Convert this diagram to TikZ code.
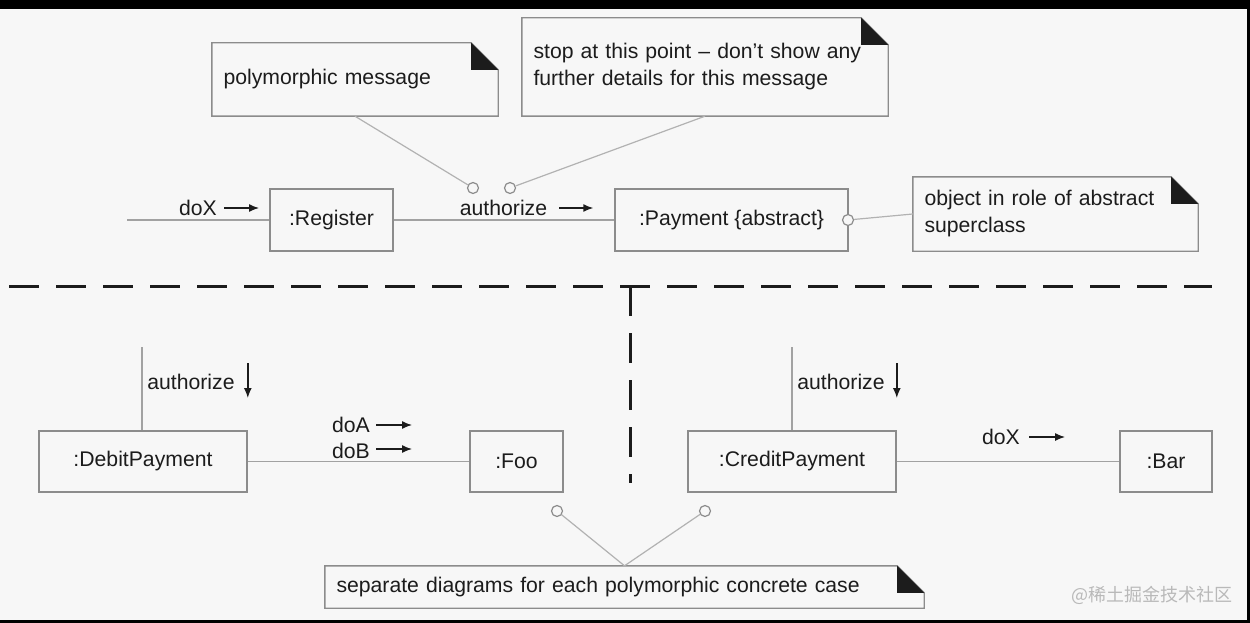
\documentclass[tikz,border=0pt]{standalone}
\usepackage{fontspec}
\setmainfont{Liberation Sans}
\newfontfamily\cjk{Noto Sans CJK SC}
\usetikzlibrary{arrows.meta}

\definecolor{paper}{HTML}{F7F7F7}
\definecolor{ink}{HTML}{1C1C1C}
\definecolor{frame}{HTML}{8C8C8C}
\definecolor{wire}{HTML}{A2A2A2}
\definecolor{tieline}{HTML}{B2B2B2}

\begin{document}
\begin{tikzpicture}[x=1pt,y=-1pt,>={Latex[length=10pt,width=8pt]},font=\fontsize{21.2}{27}\selectfont,text=ink]
		\tikzstyle{object}=[rectangle, draw=frame, line width=1.4pt, minimum height=62pt, inner sep=0pt]
		\tikzstyle{note}=[rectangle, inner xsep=11.5pt, inner ysep=0pt, align=left]
		\tikzstyle{link}=[draw=wire, line width=1.4pt]
		\tikzstyle{msg}=[->, draw=ink, line width=1.5pt]
		\tikzstyle{msgtext}=[inner sep=0pt]
		\tikzstyle{ring}=[circle, draw=frame, line width=1.2pt, fill=paper, minimum size=11pt, inner sep=0pt]
		\tikzstyle{tie}=[draw=tieline, line width=1.2pt]
		\tikzstyle{cut}=[draw=ink, line width=3pt, dash pattern=on 30pt off 17pt]

		\useasboundingbox (0,0) rectangle (1250,623);
		\fill [paper] (0,0) rectangle (1250,623);
		\fill [black] (0,0) rectangle (1250,9);
		\fill [black] (0,620) rectangle (1250,623);
		\fill [black] (1247,0) rectangle (1250,623);

		% notes
		\node [note, minimum width=286pt, minimum height=73pt, text width=263pt] (n1) at (355,79.5) {polymorphic message};
		\node [note, minimum width=366pt, minimum height=98pt, text width=343pt] (n2) at (705,67) {stop at this point -- don't show any\\further details for this message};
		\node [note, minimum width=285pt, minimum height=74pt, text width=262pt] (n3) at (1055.5,214) {object in role of abstract\\superclass};
		\node [note, minimum width=599pt, minimum height=42pt, text width=576pt] (n4) at (624.5,587) {separate diagrams for each polymorphic concrete case};

		\foreach \n in {n1,n2,n3,n4} {
			\draw [draw=frame, line width=1.4pt] (\n.north west) -- ([shift={(-27,0)}]\n.north east)
				-- ([shift={(0,27)}]\n.north east) -- (\n.south east) -- (\n.south west) -- cycle;
			\fill [ink] ([shift={(-27,0)}]\n.north east) -- ([shift={(-27,27)}]\n.north east)
				-- ([shift={(0,27)}]\n.north east) -- cycle;
		}

		% top diagram
		\node [object, minimum width=123pt] (reg) at (331.5,220) {:Register};

		\node [object, minimum width=233pt] (pay) at (731.5,220) {:Payment \{abstract\}}
		edge [link] (reg);

		\coordinate (in1) at (127,220);
		\draw [link] (in1) -- (reg);

		\node [msgtext] (m1) at (198,208) {doX};
		\draw [msg] ([shift={(7,0)}]m1.east) -- ++(35,0);

		\node [msgtext] (m2) at (503.5,208) {authorize};
		\draw [msg] ([shift={(12,0)}]m2.east) -- ++(34,0);

		% separators
		\coordinate (sepL) at (9,286);
		\coordinate (sepR) at (1212,286);
		\coordinate (sepT) at (630,286);
		\coordinate (sepB) at (630,483);
		\draw [cut] (sepL) -- (sepR);
		\draw [cut] (sepT) -- (sepB);

		% bottom left
		\node [object, minimum width=208pt, minimum height=61pt] (debit) at (143,461.5) {:DebitPayment};

		\node [object, minimum width=93pt, minimum height=61pt] (foo) at (516.5,461.5) {:Foo}
		edge [link] (debit);

		\coordinate (in2) at (142,347);
		\draw [link] (in2) -- (in2 |- debit.north);

		\node [msgtext] (m3) at (191,382) {authorize};
		\draw [msg] ([shift={(13,-19)}]m3.east) -- ++(0,35);

		\node [msgtext] (m4) at (351,425) {doA};
		\draw [msg] ([shift={(6,0)}]m4.east) -- ++(36,0);

		\node [msgtext] (m5) at (351,451) {doB};
		\draw [msg] ([shift={(6,-2)}]m5.east) -- ++(36,0);

		% bottom right
		\node [object, minimum width=208pt, minimum height=61pt] (credit) at (792,461.5) {:CreditPayment};

		\node [object, minimum width=92pt, minimum height=61pt] (bar) at (1166,461.5) {:Bar}
		edge [link] (credit);

		\coordinate (in3) at (792,347);
		\draw [link] (in3) -- (credit);

		\node [msgtext] (m6) at (841,382) {authorize};
		\draw [msg] ([shift={(12,-19)}]m6.east) -- ++(0,35);

		\node [msgtext] (m7) at (1001,437) {doX};
		\draw [msg] ([shift={(9,0)}]m7.east) -- ++(36,0);

		% note anchors
		\node [ring] (r1) at (473,188) {}
		edge [tie] (n1.south);

		\node [ring] (r2) at (510,188) {}
		edge [tie] (n2.south);

		\node [ring] (r3) at (848,220) {}
		edge [tie] (n3.west);

		\node [ring] (r4) at (557,511) {}
		edge [tie] (n4.north);

		\node [ring] (r5) at (705,511) {}
		edge [tie] (n4.north);

		\node [text=gray!55, font=\cjk\fontsize{18}{18}\selectfont] (mark) at (1152,595) {@稀土掘金技术社区};
	\end{tikzpicture}
\end{document}
